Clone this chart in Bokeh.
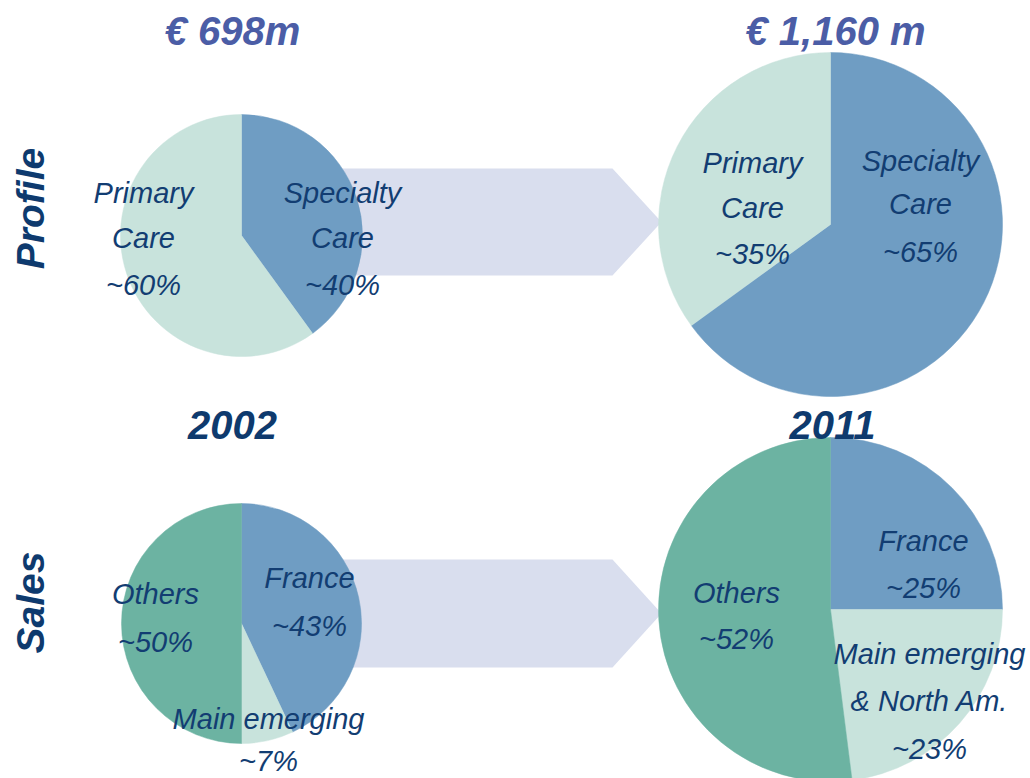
import math
from bokeh.plotting import figure
from bokeh.models import Range1d, ColumnDataSource
from bokeh.core.properties import value
from bokeh.embed import file_html
from bokeh.resources import INLINE

# ---------------- data ----------------
profile_categories = ["Specialty Care", "Primary Care"]
profile_2002 = [40, 60]
profile_2011 = [65, 35]

sales_categories = ["France", "Main emerging", "Others"]
sales_2002 = [43, 7, 50]
sales_2011 = [25, 23, 52]

years = ["2002", "2011"]
totals = ["€ 698m", "€ 1,160 m"]
row_titles = ["Profile", "Sales"]

# ---------------- style ----------------
C_SPEC = "#6F9DC3"
C_PRIM = "#C8E3DC"
C_OTH = "#6CB3A2"
C_ARROW = "#D9DEEE"
C_TOTAL = "#4B5DA6"
C_YEAR = "#0E3A6E"
C_LABEL = "#123D72"
FONT = "Liberation Sans"

H = 778  # reference height in pixels; data y = H - pixel row


def Y(py):
    return H - py


p = figure(width=1030, height=778, x_range=Range1d(0, 1030), y_range=Range1d(Y(778), Y(0)),
           output_backend="svg", toolbar_location=None, min_border=0)
p.axis.visible = False
p.grid.visible = False
p.outline_line_color = None
p.background_fill_color = "white"

# ---------------- arrows ----------------
def arrow(y_top, y_bot, x0, x_shoulder, x_tip):
    ym = (y_top + y_bot) / 2
    xs = [x0, x_shoulder, x_tip, x_shoulder, x0]
    ys = [Y(y_top), Y(y_top), Y(ym), Y(y_bot), Y(y_bot)]
    return xs, ys

a1 = arrow(168, 275, 250, 612, 661)
a2 = arrow(559, 667, 250, 612, 661)
p.patches(xs=[a1[0], a2[0]], ys=[a1[1], a2[1]], fill_color=C_ARROW, line_color=None)

# ---------------- pies ----------------
def pie(cx, cy, r, values, colors):
    total = float(sum(values))
    cum = 0.0
    starts, ends = [], []
    for v in values:
        c0 = cum / total
        cum += v
        c1 = cum / total
        starts.append(math.pi / 2 - 2 * math.pi * c1)
        ends.append(math.pi / 2 - 2 * math.pi * c0)
    src = ColumnDataSource(dict(x=[cx] * len(values), y=[Y(cy)] * len(values),
                                s=starts, e=ends, c=colors))
    p.wedge(x="x", y="y", radius=r, start_angle="s", end_angle="e", source=src,
            fill_color="c", line_color="c", line_width=0.5)

pie(241, 235, 121, profile_2002, [C_SPEC, C_PRIM])
pie(830, 224, 172, profile_2011, [C_SPEC, C_PRIM])
pie(241, 623, 120, sales_2002, [C_SPEC, C_PRIM, C_OTH])
pie(830, 609, 172, sales_2011, [C_SPEC, C_PRIM, C_OTH])

# ---------------- labels ----------------
def label(x, py_list, lines, size="29px"):
    p.text(x=[x] * len(lines), y=[Y(v) for v in py_list], text=lines,
           text_font=value(FONT), text_font_style="italic", text_font_size=size,
           text_color=C_LABEL, text_align="center", text_baseline="middle")

# Profile 2002
label(143, [192, 237, 284], ["Primary", "Care", f"~{profile_2002[1]}%"])
label(342, [192, 237, 284], ["Specialty", "Care", f"~{profile_2002[0]}%"])
# Profile 2011
label(752, [162, 207, 253], ["Primary", "Care", f"~{profile_2011[1]}%"])
label(920, [160, 203, 251], ["Specialty", "Care", f"~{profile_2011[0]}%"])
# Sales 2002
label(155, [593, 641], [sales_categories[2], f"~{sales_2002[2]}%"])
label(309, [577, 625], [sales_categories[0], f"~{sales_2002[0]}%"])
label(268, [718, 760], [sales_categories[1], f"~{sales_2002[1]}%"])
# Sales 2011
label(736, [592, 638], [sales_categories[2], f"~{sales_2011[2]}%"])
label(923, [540, 587], [sales_categories[0], f"~{sales_2011[0]}%"])
label(929, [653, 700, 748], [sales_categories[1], "& North Am.", f"~{sales_2011[1]}%"])

# ---------------- titles ----------------
p.text(x=[232, 835], y=[Y(30), Y(30)], text=totals, text_font=value(FONT),
       text_font_style="bold italic", text_font_size="40px", text_color=C_TOTAL,
       text_align="center", text_baseline="middle")
p.text(x=[232, 832], y=[Y(424), Y(424)], text=years, text_font=value(FONT),
       text_font_style="bold italic", text_font_size="40px", text_color=C_YEAR,
       text_align="center", text_baseline="middle")
p.text(x=[30, 30], y=[Y(208), Y(602)], text=row_titles, text_font=value(FONT),
       text_font_style="bold italic", text_font_size="39px", text_color=C_YEAR,
       text_align="center", text_baseline="middle", angle=math.pi / 2)

open("out.html", "w").write(file_html(p, INLINE))
